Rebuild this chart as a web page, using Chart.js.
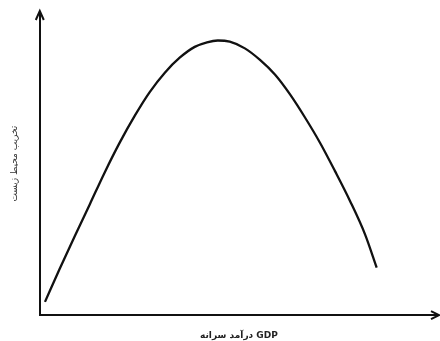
<!DOCTYPE html>
<html>
<head>
<meta charset="utf-8">
<script src="https://cdn.jsdelivr.net/npm/chart.js@4"></script>
<style>
  html, body { margin: 0; padding: 0; background: #fff; }
  #wrap { width: 440px; height: 341px; }
</style>
</head>
<body>
<div id="wrap"><canvas id="kuznets"></canvas></div>
<script>
// income (x) and environmental degradation (y)
const incomeValues = [1.3, 5.0, 8.8, 12.6, 16.3, 20.1, 23.9, 27.6, 31.4, 35.2, 38.9, 42.0, 44.7,
                      47.7, 51.5, 55.3, 59.1, 62.8, 66.6, 70.4, 74.1, 77.9, 81.7, 84.6];
const damageValues = [4.4, 15.3, 26.1, 36.7, 47.1, 57.0, 65.9, 73.6, 80.0, 85.0, 88.5, 90.0, 90.6,
                      90.2, 88.0, 84.2, 79.3, 72.9, 65.2, 56.8, 47.6, 37.7, 26.6, 15.7];
const xTitle = 'درآمد سرانه GDP';
const yTitle = 'تخریب محیط زیست';

const points = incomeValues.map((x, i) => ({ x, y: damageValues[i] }));

// open arrowheads on the ends of both axes
const axisArrows = {
  id: 'axisArrows',
  afterDraw(chart) {
    const { ctx, chartArea: a } = chart;
    ctx.save();
    ctx.strokeStyle = '#111';
    ctx.lineWidth = 2;
    ctx.beginPath();
    ctx.moveTo(a.left, a.top + 1);
    ctx.lineTo(a.left, a.top - 1);
    ctx.moveTo(a.left - 4, a.top + 8);
    ctx.lineTo(a.left, a.top - 1);
    ctx.lineTo(a.left + 4, a.top + 8);
    ctx.moveTo(a.right - 1, a.bottom);
    ctx.lineTo(a.right + 1, a.bottom);
    ctx.moveTo(a.right - 7, a.bottom - 4);
    ctx.lineTo(a.right + 1, a.bottom);
    ctx.lineTo(a.right - 7, a.bottom + 4);
    ctx.stroke();
    ctx.restore();
  }
};

new Chart(document.getElementById('kuznets'), {
  type: 'line',
  data: {
    datasets: [{
      data: points,
      borderColor: '#111',
      borderWidth: 2.3,
      pointRadius: 0,
      cubicInterpolationMode: 'monotone',
      fill: false
    }]
  },
  options: {
    responsive: true,
    maintainAspectRatio: false,
    animation: false,
    layout: { padding: { left: 4, right: 2, top: 12, bottom: 0 } },
    plugins: {
      legend: { display: false },
      tooltip: { enabled: false }
    },
    scales: {
      x: {
        type: 'linear',
        min: 0,
        max: 100,
        grid: { display: false, drawTicks: false },
        border: { display: true, color: '#111', width: 2 },
        ticks: { display: false },
        title: {
          display: true,
          text: xTitle,
          color: '#222',
          font: { family: 'DejaVu Sans', size: 9, weight: 'bold' },
          padding: { top: 15, bottom: 0 }
        }
      },
      y: {
        type: 'linear',
        min: 0,
        max: 100,
        grid: { display: false, drawTicks: false },
        border: { display: true, color: '#111', width: 2 },
        ticks: { display: false },
        title: {
          display: true,
          text: yTitle,
          color: '#333',
          font: { family: 'DejaVu Sans', size: 9 },
          padding: { top: 5, bottom: 20 }
        }
      }
    }
  },
  plugins: [axisArrows]
});
</script>
</body>
</html>
